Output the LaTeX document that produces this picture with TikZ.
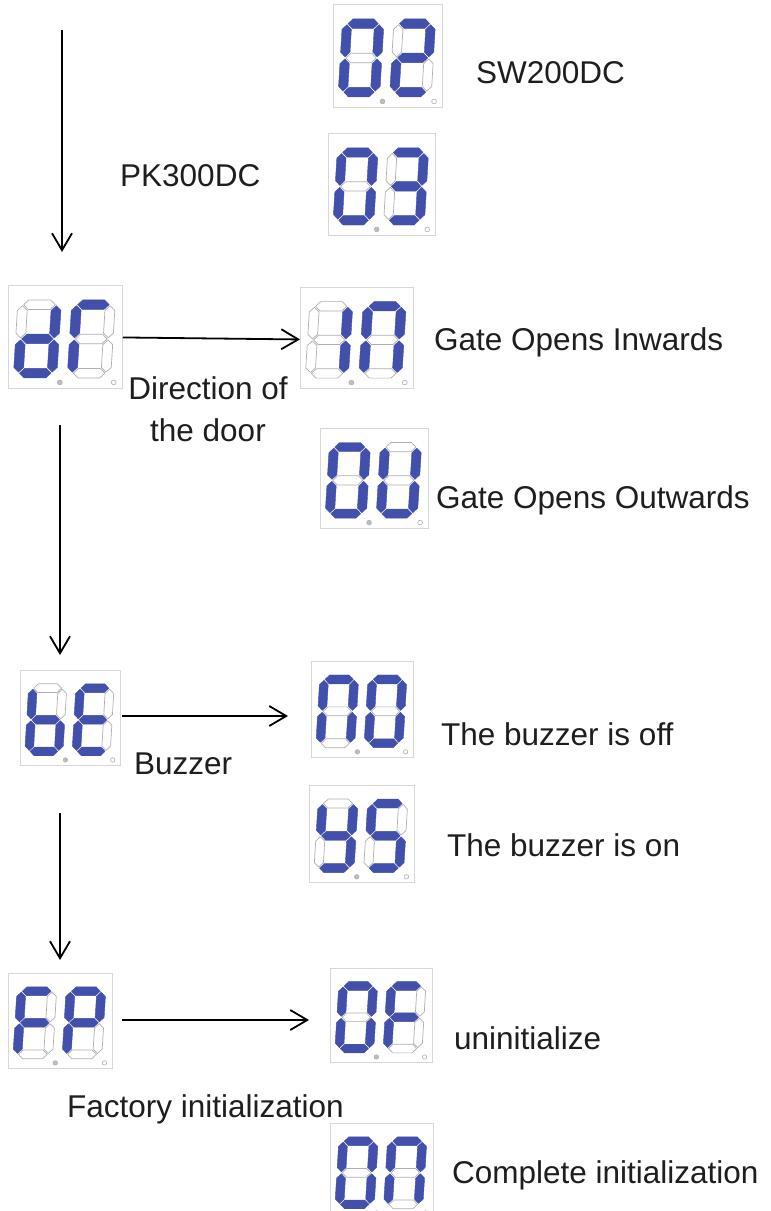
\documentclass[tikz,border=0pt]{standalone}
\usepackage{fontspec}
\setmainfont{Liberation Sans}
\usetikzlibrary{arrows.meta}
\definecolor{segblue}{RGB}{66,80,172}
\definecolor{segline}{RGB}{175,175,175}
\definecolor{boxgray}{RGB}{215,215,215}
\definecolor{txt}{RGB}{30,30,30}
\tikzset{
  dispbox/.style={draw=boxgray, line width=0.9pt, fill=white, inner sep=0pt, anchor=north west},
  segon/.style={fill=segblue, draw=segblue, line width=0.4pt, line join=round},
  segoff/.style={fill=white, draw=segline, line width=0.7pt, line join=round},
  dotfull/.style={fill=segline!80, draw=segline, line width=0.6pt},
  dotempty/.style={fill=white, draw=segline, line width=0.6pt},
  flow/.style={line width=1.8pt, -{Straight Barb[length=17pt,width=20pt,line width=1.8pt]}},
  lbl/.style={anchor=base west, inner sep=0pt, text=txt, font=\fontsize{31.5}{42}\selectfont},
}
\newcommand\segdraw[1]{%
  \ifcase#1\or
  \path[cur] (5.75,73.25)--(10.5,78)--(31.5,78)--(36.25,73.25)--(31.5,68.5)--(10.5,68.5)--cycle;\or
  \path[cur] (37.25,40)--(42,44.75)--(42,67.5)--(37.25,72.25)--(32.5,67.5)--(32.5,44.75)--cycle;\or
  \path[cur] (37.25,5.75)--(42,10.5)--(42,33.25)--(37.25,38)--(32.5,33.25)--(32.5,10.5)--cycle;\or
  \path[cur] (5.75,4.75)--(10.5,9.5)--(31.5,9.5)--(36.25,4.75)--(31.5,0)--(10.5,0)--cycle;\or
  \path[cur] (4.75,5.75)--(9.5,10.5)--(9.5,33.25)--(4.75,38)--(0,33.25)--(0,10.5)--cycle;\or
  \path[cur] (4.75,40)--(9.5,44.75)--(9.5,67.5)--(4.75,72.25)--(0,67.5)--(0,44.75)--cycle;\or
  \path[cur] (5.75,39)--(10.5,43.75)--(31.5,43.75)--(36.25,39)--(31.5,34.25)--(10.5,34.25)--cycle;\fi}
\newcommand\sevdigit[1]{%
  \foreach \f [count=\i] in {#1}{%
    \ifnum\f=1 \tikzset{cur/.style={segon}}\else\tikzset{cur/.style={segoff}}\fi
    \segdraw{\i}}}
\newcommand\sevdisp[7]{%
  \node[dispbox, minimum width={#4-#2}, minimum height={#5-#3}] (#1) at (#2,-#3) {};
  \begin{scope}[shift={(#1.south west)}, xscale={(#4-#2)/110}, yscale={(#5-#3)/103}]
    \begin{scope}[shift={(5,11)}, xslant=0.06]\sevdigit{#6}\end{scope}
    \begin{scope}[shift={(57,11)}, xslant=0.06]\sevdigit{#7}\end{scope}
    \path[dotfull] (50,6.5) circle (2.4);
    \path[dotempty] (102,6.5) circle (2.4);
  \end{scope}}
\begin{document}
\begin{tikzpicture}[x=1pt,y=1pt]
\useasboundingbox[fill=white] (0,0) rectangle (771,-1211);
% displays
\sevdisp{d02}{333}{4}{442}{107}{1,1,1,1,1,1,0}{1,1,0,1,1,0,1}
\sevdisp{d03}{328}{133}{435}{235}{1,1,1,1,1,1,0}{1,1,1,1,0,0,1}
\sevdisp{ddr}{8}{285}{122}{388}{0,1,1,1,1,0,1}{1,0,0,0,1,1,0}
\sevdisp{din}{300}{287}{413}{388}{0,1,1,0,0,0,0}{1,1,1,0,1,1,0}
\sevdisp{dou}{320}{428}{428}{528}{1,1,1,1,1,1,0}{0,1,1,1,1,1,0}
\sevdisp{dbe}{20}{670}{120}{765}{0,0,1,1,1,1,1}{1,0,0,1,1,1,1}
\sevdisp{dno}{311}{661}{413}{757}{1,1,1,0,1,1,0}{1,1,1,1,1,1,0}
\sevdisp{dys}{309}{785}{414}{882}{0,1,1,1,0,1,1}{1,0,1,1,0,1,1}
\sevdisp{dfp}{8}{973}{112}{1068}{1,0,0,0,1,1,1}{1,1,0,0,1,1,1}
\sevdisp{dof}{330}{968}{432}{1062}{1,1,1,1,1,1,0}{1,0,0,0,1,1,1}
\sevdisp{don}{330}{1123}{433}{1218}{1,1,1,1,1,1,0}{1,1,1,0,1,1,0}
% labels
\node[lbl] (tsw) at (476,-83) {SW200DC};
\node[lbl] (tpk) at (120,-186) {PK300DC};
\node[lbl] (tin) at (434,-350) {Gate Opens Inwards};
\node[lbl, anchor=base, align=center] (tdir) at (208,-441) {Direction of\\the door};
\node[lbl] (tou) at (436,-508) {Gate Opens Outwards};
\node[lbl] (toff) at (441,-745) {The buzzer is off};
\node[lbl] (tbz) at (134,-774) {Buzzer};
\node[lbl] (ton) at (447,-856) {The buzzer is on};
\node[lbl] (tun) at (454,-1049) {uninitialize};
\node[lbl] (tfi) at (67,-1117) {Factory initialization};
\node[lbl] (tci) at (452,-1183) {Complete initialization};
% connectors
\coordinate (s1) at (62,-30);  \coordinate (e1) at (62,-252);
\coordinate (s3) at (60,-425); \coordinate (e3) at (60,-655);
\coordinate (s5) at (60,-813); \coordinate (e5) at (60,-960);
\coordinate (s4) at (122,-716); \coordinate (e4) at (288,-716);
\coordinate (s6) at (122,-1020); \coordinate (e6) at (309,-1020);
\draw[flow] (s1) -- (e1);
\draw[flow] (ddr.east) ++(0,-0.5) -- ([yshift=-1.5pt]din.west);
\draw[flow] (s3) -- (e3);
\draw[flow] (s4) -- (e4);
\draw[flow] (s5) -- (e5);
\draw[flow] (s6) -- (e6);
\end{tikzpicture}
\end{document}
